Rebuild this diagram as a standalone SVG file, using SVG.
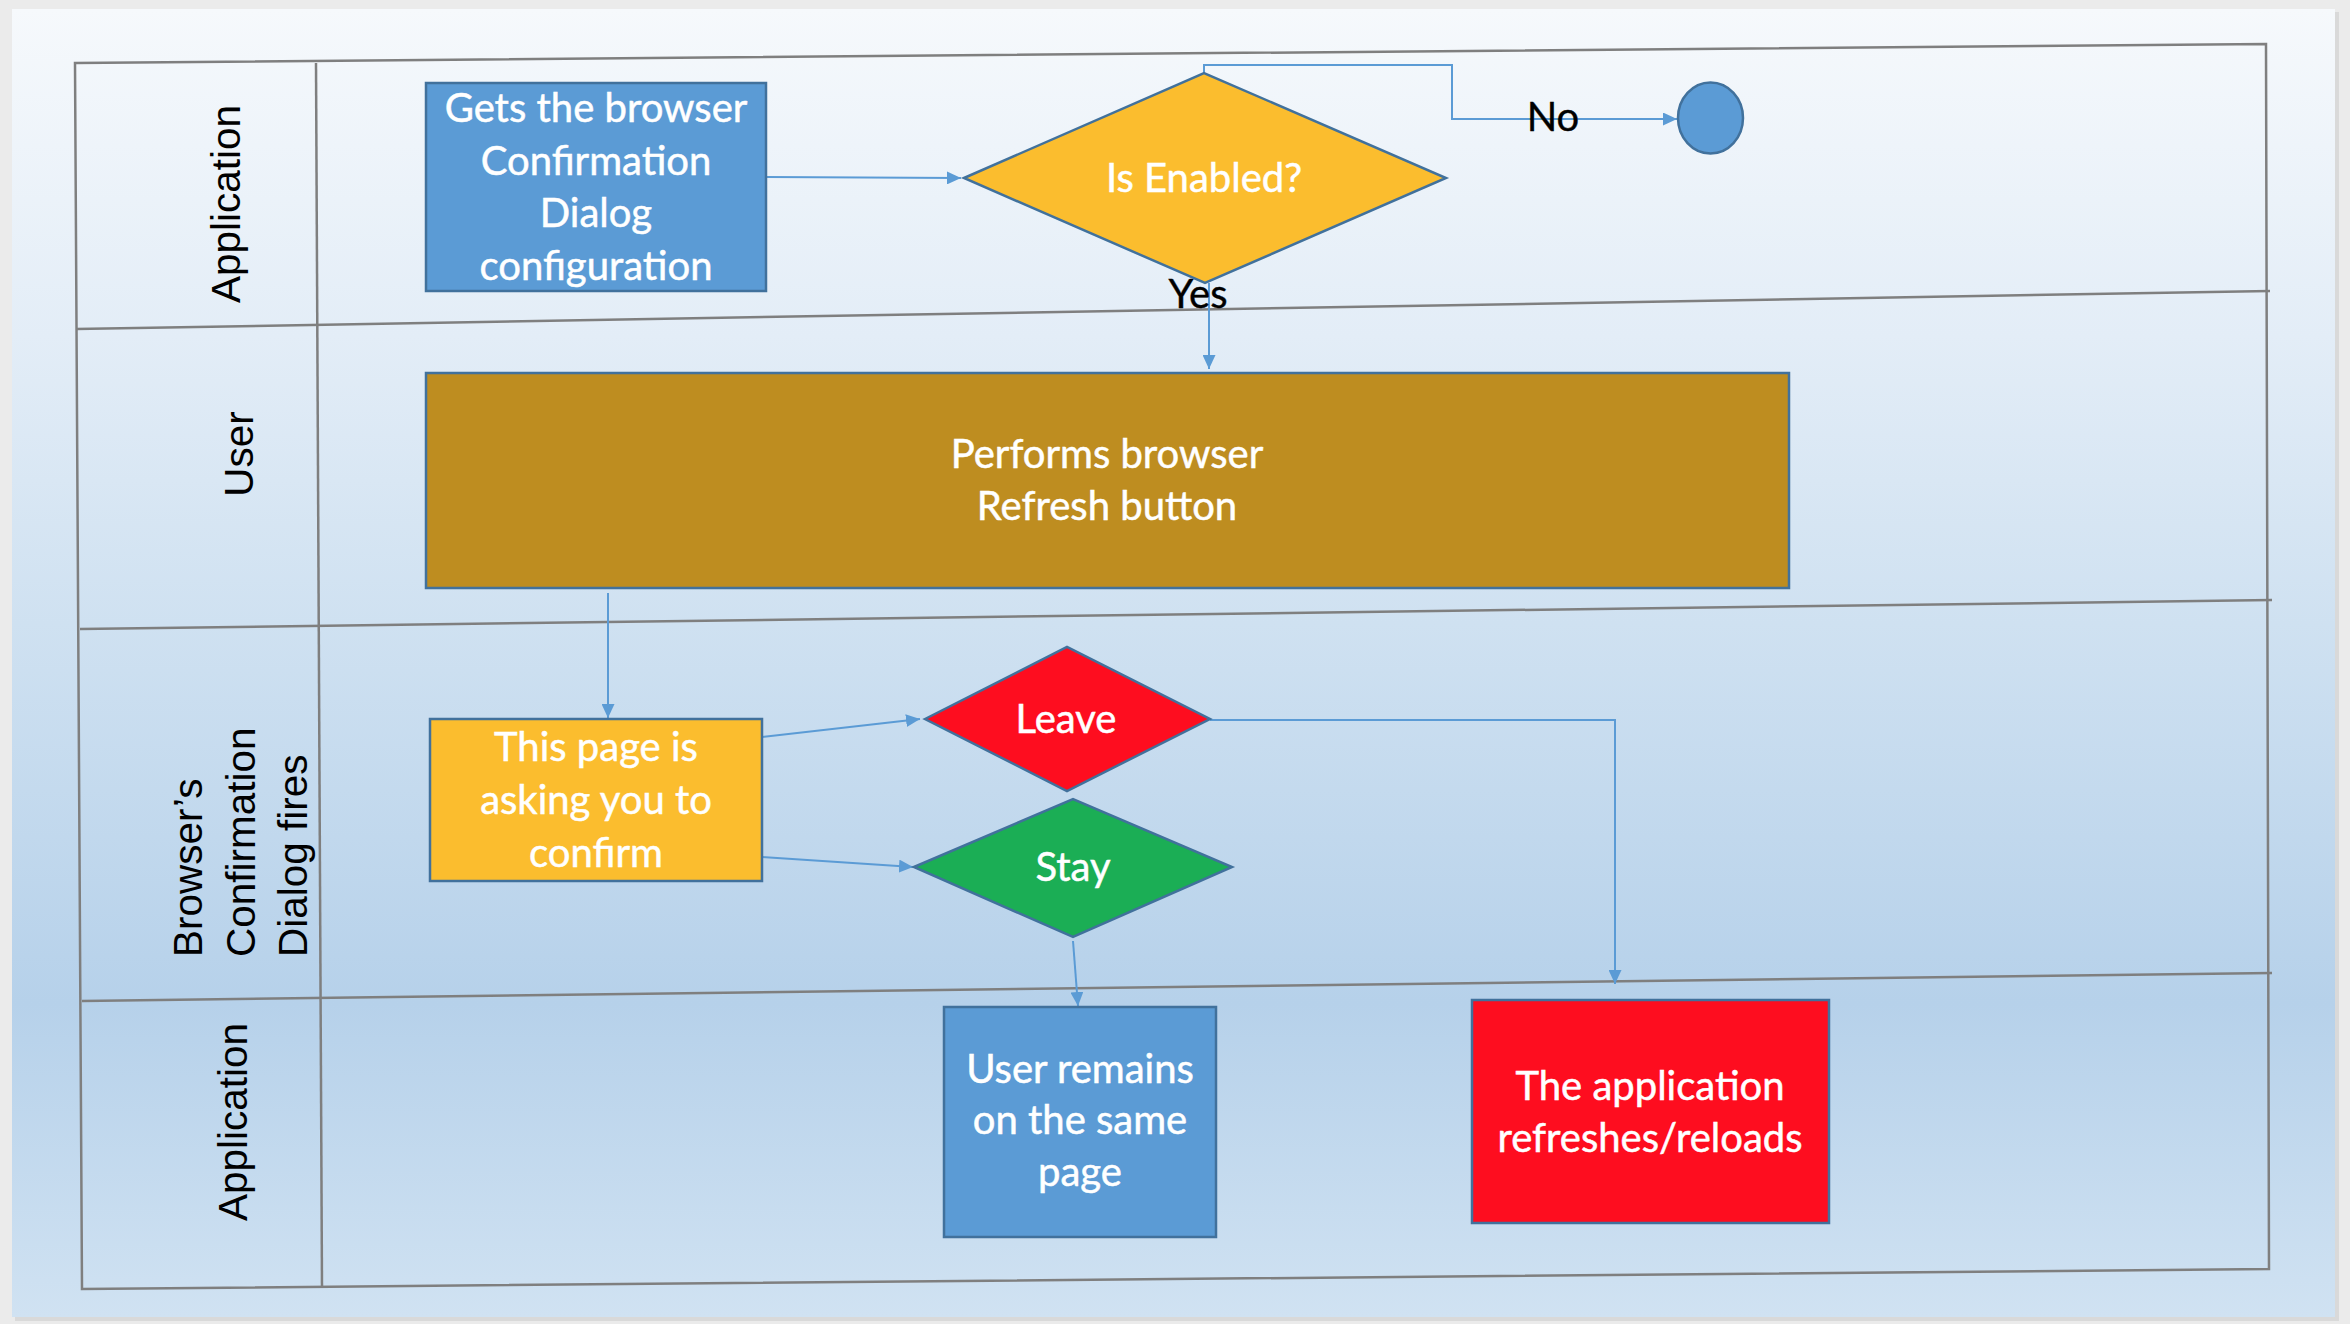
<svg xmlns="http://www.w3.org/2000/svg" width="2350" height="1324" viewBox="0 0 2350 1324">
<defs>
<linearGradient id="bg" x1="0" y1="0" x2="0" y2="1">
<stop offset="0" stop-color="#f6f9fc"/>
<stop offset="0.25" stop-color="#e3edf7"/>
<stop offset="0.47" stop-color="#cfe1f1"/>
<stop offset="0.76" stop-color="#b6d1ea"/>
<stop offset="1" stop-color="#d0e2f2"/>
</linearGradient>
<marker id="arr" markerUnits="userSpaceOnUse" markerWidth="14" markerHeight="13" refX="14" refY="6.5" orient="auto">
<path d="M0,0 L14,6.5 L0,13 z" fill="#5b9bd5"/>
</marker>
<style>
.lane{fill:none;stroke:#7f7f7f;stroke-width:2.5}
.conn{fill:none;stroke:#5b9bd5;stroke-width:2;marker-end:url(#arr)}
.shape{stroke:#41719c;stroke-width:2.5}
.blue{fill:#5b9bd5}
.gold{fill:#fbbd2e}
.brown{fill:#be8d20}
.red{fill:#fe0d1f}
.green{fill:#1bae55}
.t{font-family:Lato,"Liberation Sans",sans-serif;font-size:40px;fill:#ffffff;stroke:#ffffff;stroke-width:0.5;text-anchor:middle}
.lbl{font-family:Lato,"Liberation Sans",sans-serif;font-size:40px;fill:#000000;stroke:#000000;stroke-width:0.4;text-anchor:middle}
.lanet{font-family:"Liberation Sans",Arial,sans-serif;font-size:40.5px;fill:#000000}
</style>
</defs>
<rect x="0" y="0" width="2350" height="1324" fill="#ebebeb"/>
<rect x="15" y="12" width="2324" height="1309" fill="#d9d9d9"/>
<rect x="12" y="9" width="2323" height="1308" fill="url(#bg)"/>

<g id="pool">
<path class="lane" d="M75,63 L2266,44 L2269,1269 L82,1289 Z"/>
<path class="lane" d="M316,63 L322,1288"/>
<path class="lane" d="M76,329 L2270,291"/>
<path class="lane" d="M80,629 L2272,600"/>
<path class="lane" d="M82,1001 L2272,973"/>
<text class="lanet" text-anchor="middle" transform="translate(240,204) rotate(-90)">Application</text>
<text class="lanet" text-anchor="middle" transform="translate(253,454) rotate(-90)">User</text>
<text class="lanet" text-anchor="start" transform="translate(202,957) rotate(-90)"><tspan x="0" y="0">Browser’s</tspan><tspan x="0" dy="52.5">Confirmation</tspan><tspan x="0" dy="52.5">Dialog fires</tspan></text>
<text class="lanet" text-anchor="middle" transform="translate(247,1122) rotate(-90)">Application</text>
</g>

<g id="connectors">
<path class="conn" d="M766,177 L961,178"/>
<path class="conn" d="M1204,73 L1204,65 L1452,65 L1452,119 L1677,119"/>
<path class="conn" d="M1209,283 L1209,369"/>
<path class="conn" d="M608,593 L608,718"/>
<path class="conn" d="M762,737 L920,719"/>
<path class="conn" d="M762,857 L913,867"/>
<path class="conn" d="M1210,720 L1615,720 L1615,984"/>
<path class="conn" d="M1073,941 L1078,1006"/>
<text class="lbl" x="1553" y="131">No</text>
<text class="lbl" x="1198" y="308">Yes</text>
</g>

<g id="get-config">
<rect class="shape blue" x="426" y="83" width="340" height="208"/>
<text class="t"><tspan x="596" y="122">Gets the browser</tspan><tspan x="596" y="174.5">Confirmation</tspan><tspan x="596" y="227">Dialog</tspan><tspan x="596" y="279.5">configuration</tspan></text>
</g>
<g id="is-enabled">
<polygon class="shape gold" points="964,178 1204,73 1446,178 1205,283"/>
<text class="t" x="1204" y="192">Is Enabled?</text>
</g>
<g id="end">
<ellipse class="shape blue" cx="1710.5" cy="118" rx="32.5" ry="35.5"/>
</g>
<g id="refresh">
<rect class="shape brown" x="426" y="373" width="1363" height="215"/>
<text class="t"><tspan x="1107" y="468">Performs browser</tspan><tspan x="1107" y="520">Refresh button</tspan></text>
</g>
<g id="confirm">
<rect class="shape gold" x="430" y="719" width="332" height="162"/>
<text class="t"><tspan x="596" y="761">This page is</tspan><tspan x="596" y="814">asking you to</tspan><tspan x="596" y="867">confirm</tspan></text>
</g>
<g id="leave">
<polygon class="shape red" points="925,719 1067,647 1210,719 1067,791"/>
<text class="t" x="1066" y="733">Leave</text>
</g>
<g id="stay">
<polygon class="shape green" points="914,867 1073,799 1232,867 1073,937"/>
<text class="t" x="1073" y="881">Stay</text>
</g>
<g id="remain">
<rect class="shape blue" x="944" y="1007" width="272" height="230"/>
<text class="t"><tspan x="1080" y="1083">User remains</tspan><tspan x="1080" y="1134">on the same</tspan><tspan x="1080" y="1186">page</tspan></text>
</g>
<g id="reload">
<rect class="shape red" x="1472" y="1000" width="357" height="223"/>
<text class="t"><tspan x="1650" y="1100">The application</tspan><tspan x="1650" y="1152">refreshes/reloads</tspan></text>
</g>
</svg>
